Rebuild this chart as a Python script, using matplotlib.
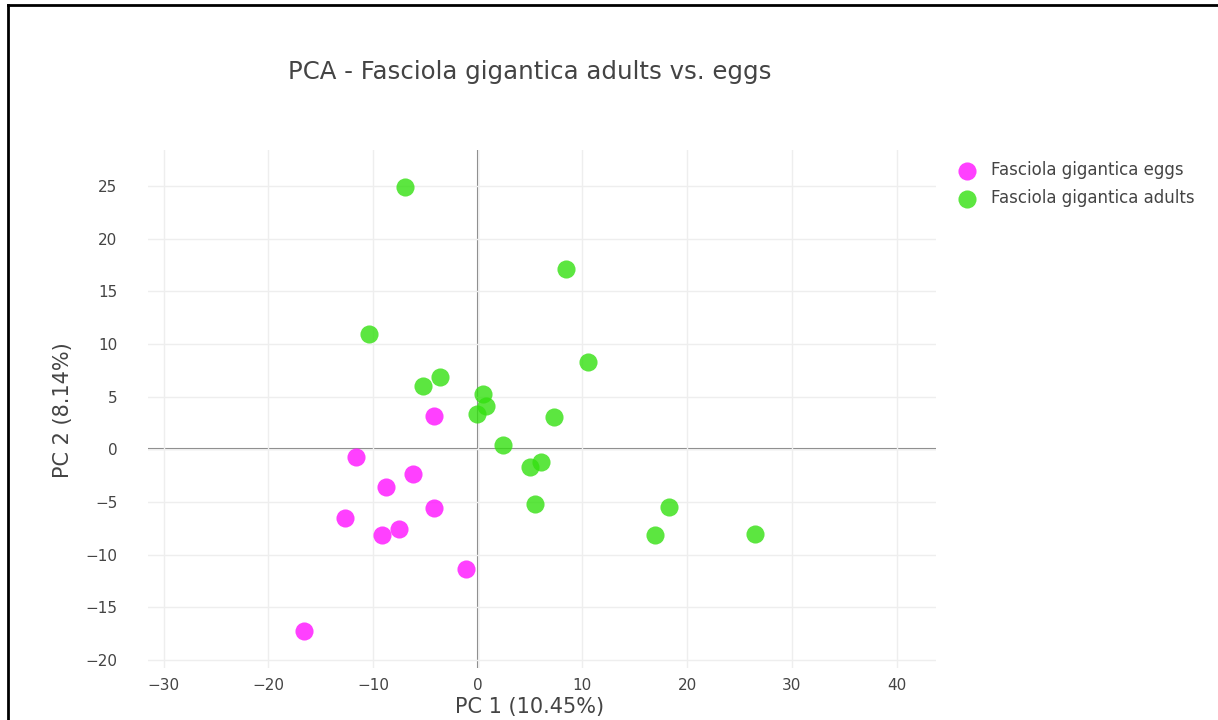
import matplotlib
matplotlib.use("Agg")
import matplotlib.pyplot as plt
from matplotlib.lines import Line2D

# PCA scores
eggs_pc1 = [-4.15, -11.65, -6.21, -8.76, -4.20, -12.67, -7.52, -9.17, -1.12, -16.59]
eggs_pc2 = [3.13, -0.76, -2.35, -3.55, -5.57, -6.52, -7.57, -8.14, -11.37, -17.26]

adults_pc1 = [-6.94, 8.43, -10.38, 10.53, -3.60, -5.20, 0.53, 0.76, -0.04,
              7.29, 2.45, 6.02, 4.97, 5.47, 18.27, 16.91, 26.49]
adults_pc2 = [24.91, 17.12, 10.95, 8.29, 6.84, 6.04, 5.22, 4.14, 3.35,
              3.04, 0.38, -1.18, -1.65, -5.19, -5.45, -8.11, -8.07]

x_ticks = [-30, -20, -10, 0, 10, 20, 30, 40]
y_ticks = [-20, -15, -10, -5, 0, 5, 10, 15, 20, 25]

title = "PCA - Fasciola gigantica adults vs. eggs"
eggs_label = "Fasciola gigantica eggs"
adults_label = "Fasciola gigantica adults"

plt.rcParams["font.family"] = ["DejaVu Sans"]
text_col = "#444444"


def fmt(v):
    return f"\u2212{abs(v)}" if v < 0 else str(v)


fig = plt.figure(figsize=(12.18, 7.2), dpi=100)
ax = fig.add_axes([148 / 1218, 1 - 668 / 720, (936 - 148) / 1218, (668 - 150) / 720])

ax.set_xlim(-31.49, 43.77)
ax.set_ylim(-20.77, 28.42)
ax.set_xticks(x_ticks)
ax.set_yticks(y_ticks)
ax.set_xticklabels([fmt(v) for v in x_ticks])
ax.set_yticklabels([fmt(v) for v in y_ticks])
ax.grid(True, color="#eeeeee", linewidth=1, zorder=0)
ax.axhline(0, color="#7a7a7a", linewidth=1.5, zorder=1)
ax.axvline(0, color="#7a7a7a", linewidth=1.5, zorder=1)
for s in ax.spines.values():
    s.set_visible(False)
ax.tick_params(length=0, colors=text_col, labelsize=11)
ax.tick_params(axis="y", pad=22)
ax.tick_params(axis="x", pad=7)

ax.scatter(eggs_pc1, eggs_pc2, s=170, color="#ff10ff", alpha=0.8,
           linewidths=0, label=eggs_label, zorder=3)
ax.scatter(adults_pc1, adults_pc2, s=170, color="#33e010", alpha=0.8,
           linewidths=0, label=adults_label, zorder=3)

fig.text(530 / 1218, 1 - 72 / 720, title, ha="center", va="center",
         fontsize=17.6, color=text_col)
fig.text(530 / 1218, 1 - 707 / 720, "PC 1 (10.45%)", ha="center", va="center",
         fontsize=15, color=text_col)
fig.text(63 / 1218, 1 - 410 / 720, "PC 2 (8.14%)", ha="center", va="center",
         rotation=90, fontsize=15, color=text_col)

leg = ax.legend(loc="upper left", bbox_to_anchor=(950 / 1218, 1 - 161 / 720),
                bbox_transform=fig.transFigure, frameon=False, fontsize=12,
                handletextpad=0.45, labelspacing=0.6, borderpad=0,
                borderaxespad=0)
for t in leg.get_texts():
    t.set_color(text_col)

# screenshot frame (top and left edges)
fig.add_artist(Line2D([8 / 1218, 1], [1 - 5 / 720, 1 - 5 / 720],
                      transform=fig.transFigure, color="black", linewidth=2))
fig.add_artist(Line2D([8 / 1218, 8 / 1218], [0, 1 - 5 / 720],
                      transform=fig.transFigure, color="black", linewidth=2))

fig.savefig("out.png", dpi=100)
